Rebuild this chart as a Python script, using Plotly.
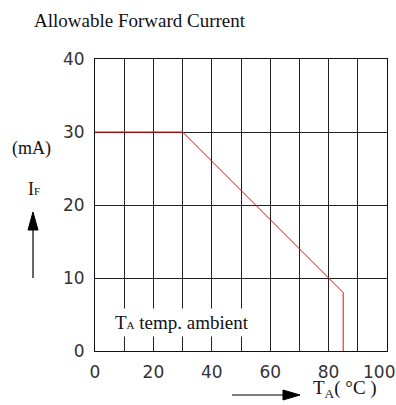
import plotly.graph_objects as go

# Data
temp_ambient = [0, 30, 85, 85]
forward_current = [30, 30, 8, 0]
x_ticks = [0, 20, 40, 60, 80, 100]
x_tick_labels = ["0", "20", "40", "60", "80", "100"]
y_ticks = [0, 10, 20, 30, 40]

W, H = 396, 405
# plot area in pixels: x 95..387, y 59..351
L, R, T, B = 95, W - 387, 59, H - 351
PW, PH = W - L - R, H - T - B

def px(x):
    return (x - L) / PW

def py(y):
    return (H - B - y) / PH

fig = go.Figure()
fig.add_trace(go.Scatter(x=temp_ambient, y=forward_current, mode="lines",
                         line=dict(color="#ff0000", width=1), hoverinfo="skip",
                         showlegend=False))

tickfont = dict(family="DejaVu Sans", size=17, color="#333")
# the last label sits flush against the right edge, so it is placed as an
# annotation at its axis value and nudged left (as in the reference)
fig.update_xaxes(range=[0, 100], tickvals=x_ticks,
                 ticktext=x_tick_labels[:-1] + [""],
                 showgrid=True, gridcolor="#222", gridwidth=1,
                 showline=True, linecolor="#111", linewidth=1, mirror=True,
                 zeroline=False, ticks="", tickfont=tickfont,
                 ticklabelstandoff=6, automargin=False)
fig.update_xaxes(minor=dict(dtick=10, showgrid=True, gridcolor="#222", gridwidth=1))
fig.update_yaxes(range=[0, 40], tickvals=y_ticks,
                 showgrid=True, gridcolor="#222", gridwidth=1,
                 showline=True, linecolor="#111", linewidth=1, mirror=True,
                 zeroline=False, ticks="", tickfont=tickfont,
                 ticklabelstandoff=6, automargin=False, ticklabeloverflow="allow")

serif = "Liberation Serif"
ann = [
    dict(x=px(32), y=py(20), text="Allowable Forward Current", xanchor="left",
         yanchor="middle", font=dict(family=serif, size=19, color="#111")),
    dict(x=px(31), y=py(148), text="(mA)", xanchor="center", yanchor="middle",
         font=dict(family=serif, size=18, color="#111")),
    dict(x=px(34), y=py(189), text="I<span style='font-size:11px'>F</span>",
         xanchor="center", yanchor="middle",
         font=dict(family=serif, size=18, color="#111")),
    dict(x=px(111), y=py(322), text="T<span style='font-size:11px'>A</span> temp. ambient",
         xanchor="left", yanchor="middle", bgcolor="white", borderpad=3,
         font=dict(family=serif, size=19, color="#111")),
    dict(x=px(311), y=py(389), text="T<sub>A</sub>( °C )", xanchor="left",
         yanchor="middle", font=dict(family=serif, size=19, color="#111")),
]
for a in ann:
    a.update(xref="paper", yref="paper", showarrow=False)
ann.append(dict(x=x_ticks[-1], y=y_ticks[0], xref="x", yref="y",
                text=x_tick_labels[-1], showarrow=False, xanchor="center",
                yanchor="middle", xshift=-8, yshift=-21, font=tickfont))

shapes = [
    dict(type="line", x0=px(33), x1=px(33), y0=py(227), y1=py(278),
         line=dict(color="black", width=1.2)),
    dict(type="path",
         path=f"M {px(33)} {py(212)} L {px(28)} {py(230)} L {px(38)} {py(230)} Z",
         fillcolor="black", line=dict(color="black", width=1)),
    dict(type="line", x0=px(232), x1=px(285), y0=py(395), y1=py(395),
         line=dict(color="black", width=1.2)),
    dict(type="path",
         path=f"M {px(300)} {py(395)} L {px(283)} {py(390)} L {px(283)} {py(400)} Z",
         fillcolor="black", line=dict(color="black", width=1)),
]
for s in shapes:
    s.update(xref="paper", yref="paper")

fig.update_layout(width=W, height=H, margin=dict(l=L, r=R, t=T, b=B, autoexpand=False),
                  paper_bgcolor="white", plot_bgcolor="white",
                  annotations=ann, shapes=shapes, showlegend=False)
fig.write_html("out.html", config={"displayModeBar": False},
               post_script="document.body.style.margin='0';"
                           "document.body.style.overflow='hidden';")
